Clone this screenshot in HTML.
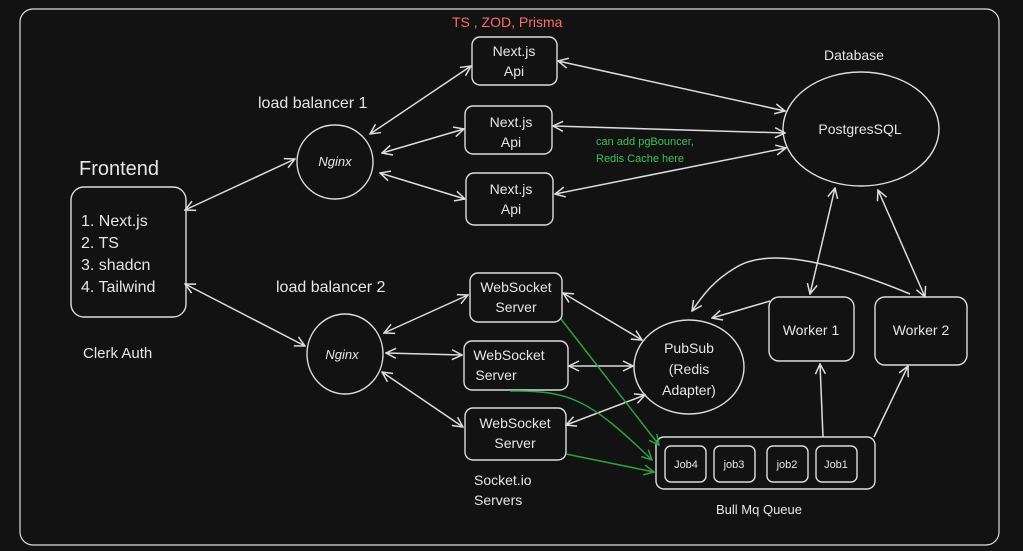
<!DOCTYPE html>
<html><head><meta charset="utf-8"><style>
html,body{margin:0;padding:0;background:#121212;}
svg{display:block}
text{font-family:"Liberation Sans",sans-serif;fill:#e6e6e6;}
</style></head><body>
<svg width="1023" height="551" viewBox="0 0 1023 551" xmlns="http://www.w3.org/2000/svg">
<defs>
<marker id="a" viewBox="0 0 12 12" refX="11" refY="6" markerWidth="12" markerHeight="12" markerUnits="userSpaceOnUse" orient="auto-start-reverse"><path d="M1,1 L11,6 L1,11" fill="none" stroke="#ddd" stroke-width="1.5"/></marker>
<marker id="g" viewBox="0 0 12 12" refX="11" refY="6" markerWidth="12" markerHeight="12" markerUnits="userSpaceOnUse" orient="auto"><path d="M1,1 L11,6 L1,11" fill="none" stroke="#2f9e44" stroke-width="1.5"/></marker>
</defs>
<rect width="1023" height="551" fill="#121212"/>
<rect x="20" y="9" width="979" height="536" rx="13" fill="none" stroke="#ddd" stroke-width="1.2"/>
<g fill="none" stroke="#ddd" stroke-width="1.4">
<rect x="71" y="187" width="115" height="130" rx="13"/>
<ellipse cx="335" cy="162" rx="38" ry="37"/>
<ellipse cx="345" cy="354" rx="38" ry="40"/>
<rect x="472" y="37" width="85" height="48" rx="8"/>
<rect x="465" y="106" width="87" height="48" rx="8"/>
<rect x="466" y="173" width="87" height="52" rx="8"/>
<ellipse cx="861" cy="129" rx="78" ry="57"/>
<rect x="470" y="273" width="92" height="49" rx="8"/>
<rect x="464" y="341" width="104" height="49" rx="8"/>
<rect x="465" y="408" width="101" height="52" rx="8"/>
<ellipse cx="689" cy="367" rx="55" ry="47"/>
<rect x="769" y="297" width="85" height="64" rx="10"/>
<rect x="875" y="297" width="92" height="68" rx="10"/>
<rect x="656" y="437" width="219" height="52" rx="8"/>
<rect x="665" y="446" width="41" height="36" rx="6"/>
<rect x="714" y="446" width="41" height="36" rx="6"/>
<rect x="767" y="446" width="41" height="36" rx="6"/>
<rect x="816" y="446" width="41" height="36" rx="6"/>
</g>
<g fill="none" stroke="#ddd" stroke-width="1.5" marker-start="url(#a)" marker-end="url(#a)">
<line x1="185" y1="210" x2="295" y2="159"/>
<line x1="185" y1="284" x2="305" y2="346"/>
<line x1="370" y1="134" x2="471" y2="66"/>
<line x1="382" y1="153" x2="464" y2="129"/>
<line x1="380" y1="173" x2="465" y2="199"/>
<line x1="558" y1="61" x2="785" y2="111"/>
<line x1="553" y1="126" x2="785" y2="133"/>
<line x1="555" y1="194" x2="786" y2="148"/>
<line x1="384" y1="333" x2="468" y2="295"/>
<line x1="386" y1="353" x2="462" y2="355"/>
<line x1="382" y1="372" x2="463" y2="427"/>
<line x1="563" y1="293" x2="642" y2="340"/>
<line x1="569" y1="366" x2="633" y2="366"/>
<line x1="566" y1="425" x2="645" y2="395"/>
<line x1="835" y1="188" x2="810" y2="294"/>
<line x1="878" y1="190" x2="925" y2="297"/>
</g>
<g fill="none" stroke="#ddd" stroke-width="1.5">
<line x1="770" y1="301" x2="712" y2="318" marker-end="url(#a)"/>
<path d="M910,294 C840,265 770,245 735,268 C715,280 705,292 692,311" marker-end="url(#a)"/>
<line x1="823" y1="437" x2="820" y2="364" marker-end="url(#a)"/>
<line x1="874" y1="437" x2="908" y2="366" marker-end="url(#a)"/>
</g>
<g fill="none" stroke="#2f9e44" stroke-width="1.5" marker-end="url(#g)">
<line x1="561" y1="319" x2="659" y2="445"/>
<path d="M510,391 C570,390 590,400 652,460"/>
<line x1="566" y1="454" x2="654" y2="472"/>
</g>
<text x="79" y="175" font-size="20">Frontend</text>
<g font-size="16"><text x="81" y="226">1. Next.js</text><text x="81" y="248">2. TS</text><text x="81" y="270">3. shadcn</text><text x="81" y="292">4. Tailwind</text></g>
<text x="83" y="358" font-size="15">Clerk Auth</text>
<text x="258" y="108" font-size="16">load balancer 1</text>
<text x="276" y="292" font-size="16">load balancer 2</text>
<text x="335" y="166" font-size="13" text-anchor="middle" font-style="italic">Nginx</text>
<text x="342" y="359" font-size="13" text-anchor="middle" font-style="italic">Nginx</text>
<text x="452" y="27" font-size="14" fill="#ff6b6b" style="fill:#ff6b6b">TS , ZOD, Prisma</text>
<g font-size="14" text-anchor="middle">
<text x="514" y="56">Next.js</text><text x="514" y="76">Api</text>
<text x="511" y="127">Next.js</text><text x="511" y="147">Api</text>
<text x="511" y="194">Next.js</text><text x="511" y="214">Api</text>
<text x="516" y="292">WebSocket</text><text x="516" y="312">Server</text>
<text x="509" y="360">WebSocket</text><text x="496" y="380">Server</text>
<text x="515" y="428">WebSocket</text><text x="515" y="448">Server</text>
<text x="689" y="353">PubSub</text><text x="689" y="374">(Redis</text><text x="689" y="395">Adapter)</text>
<text x="811" y="335">Worker 1</text><text x="921" y="335">Worker 2</text>
<text x="860" y="134">PostgresSQL</text>
</g>
<text x="824" y="60" font-size="14">Database</text>
<text x="474" y="485" font-size="14">Socket.io</text><text x="474" y="505" font-size="14">Servers</text>
<g font-size="11" style="fill:#2f9e44"><text x="596" y="145" style="fill:#40c057">can add pgBouncer,</text><text x="596" y="162" style="fill:#40c057">Redis Cache here</text></g>
<g font-size="11" text-anchor="middle"><text x="686" y="468">Job4</text><text x="734" y="468">job3</text><text x="787" y="468">job2</text><text x="836" y="468">Job1</text></g>
<text x="716" y="514" font-size="13">Bull Mq Queue</text>
</svg>
</body></html>
